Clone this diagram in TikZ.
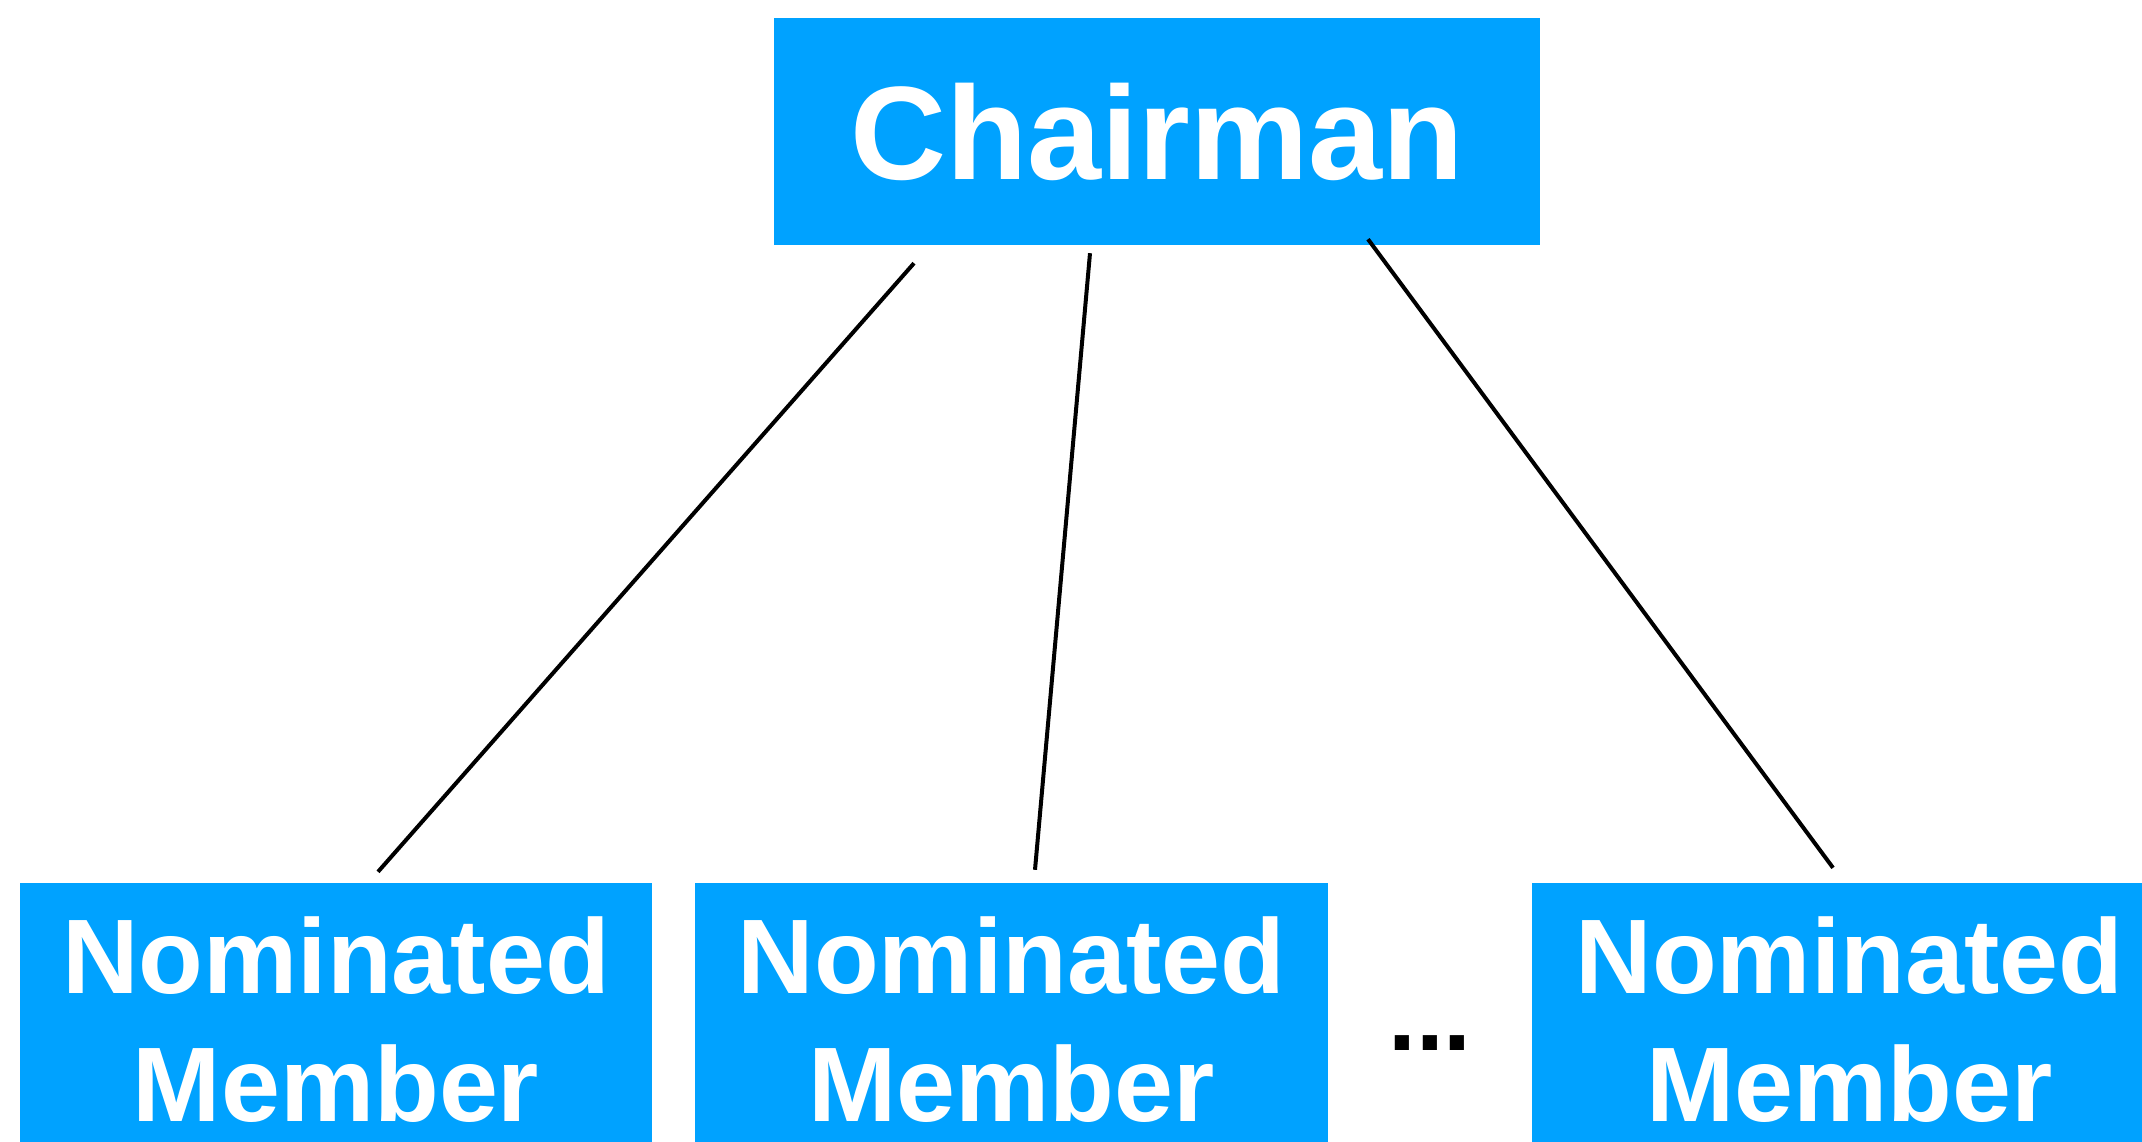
\documentclass[tikz,border=0pt]{standalone}
\usepackage{fontspec}
\setmainfont{Liberation Sans}
\usetikzlibrary{calc}
\definecolor{boxblue}{HTML}{00A2FF}
\begin{document}
\begin{tikzpicture}[x=1pt,y=-1pt,
  box/.style={draw=none, fill=boxblue, text=white, inner sep=0pt, anchor=center},
  chairfont/.style={font=\bfseries\fontsize{133}{160}\selectfont},
  memberbox/.style={box, align=center, minimum height=274pt, font=\bfseries\fontsize{106}{128}\selectfont},
  link/.style={line width=4pt, line cap=butt}]
\useasboundingbox (0,0) rectangle (2142,1142);
\node[box, chairfont, minimum width=766pt, minimum height=227pt] (chair) at (1157,131.5) {Chairman};
\node[memberbox, minimum width=632pt] (m1) at (336,1020) {Nominated\\Member};
\node[memberbox, minimum width=633pt] (m2) at (1011.5,1020) {Nominated\\Member};
\node[memberbox, minimum width=635pt] (m3) at (1849.5,1020) {Nominated\\Member};
\node[font=\bfseries\fontsize{100}{120}\selectfont, anchor=base, inner sep=0pt] (dots) at (1430,1050) {...};
\draw[link] ($(chair.south)+(-243,18)$) -- ($(m1.north)+(42,-11)$);
\draw[link] ($(chair.south)+(-67,8)$) -- ($(m2.north)+(23.5,-13)$);
\draw[link] ($(chair.south)+(211,-6)$) -- ($(m3.north)+(-16.5,-15)$);
\end{tikzpicture}
\end{document}
